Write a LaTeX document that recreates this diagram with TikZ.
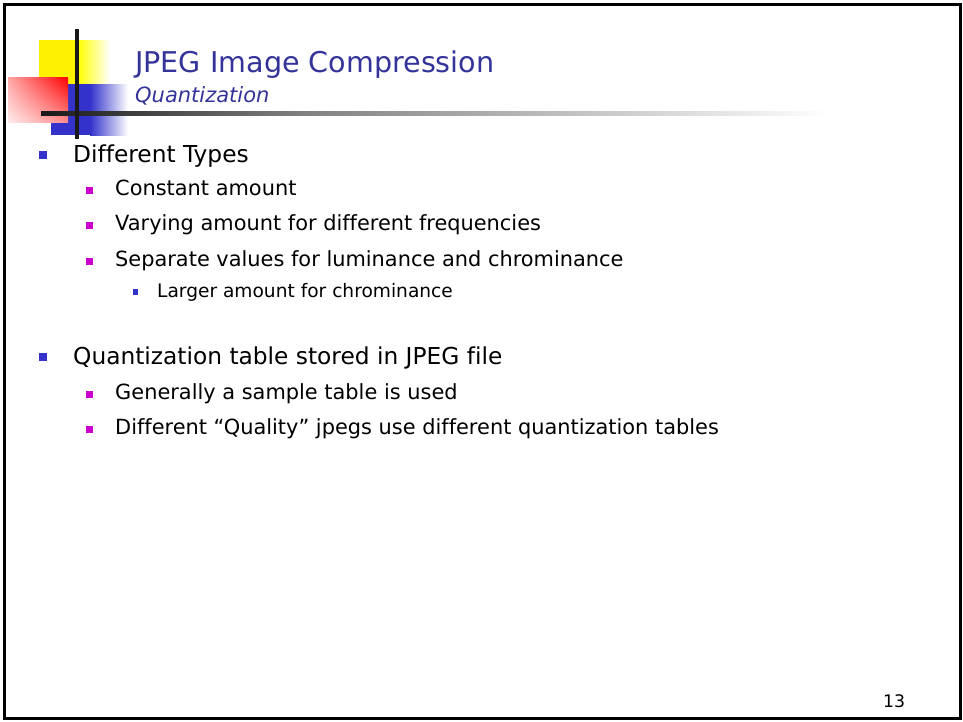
\documentclass[tikz,border=0pt]{standalone}
\usepackage{fontspec}
\setmainfont[Ligatures=NoCommon]{DejaVu Sans}
\usetikzlibrary{shadings}
\definecolor{titleblue}{HTML}{333399}
\definecolor{bulletblue}{HTML}{3333CC}
\definecolor{bulletpink}{HTML}{CC00CC}

\tikzset{
    txt/.style={anchor=base west, inner sep=0pt},
    titletext/.style={txt, text=titleblue, font=\fontsize{28.6}{34}\selectfont},
    subtext/.style={txt, text=titleblue, font=\fontsize{21}{25}\selectfont\itshape},
    lvlone/.style={txt, font=\fontsize{23.3}{28}\selectfont},
    lvltwo/.style={txt, font=\fontsize{20.9}{25}\selectfont},
    lvlthree/.style={txt, font=\fontsize{18.6}{22}\selectfont},
    dotone/.style={fill=bulletblue, inner sep=0pt, minimum size=8pt},
    dottwo/.style={fill=bulletpink, inner sep=0pt, minimum size=7pt},
    dotthree/.style={fill=bulletblue, inner sep=0pt, minimum size=5.5pt}
}

\begin{document}
\begin{tikzpicture}[x=1pt,y=-1pt]
    \useasboundingbox (0,0) rectangle (963,721);
    % slide frame
    \draw[line width=3pt] (4,4) rectangle (960,718);

    % logo blocks
    \fill[yellow] (39,40) rectangle (78,85);
    \shade[left color=yellow, right color=white] (78,40) rectangle (110,85);
    \fill[bulletblue] (51,84) rectangle (90,135);
    \shade[left color=bulletblue, right color=white] (90,84) rectangle (128,135);
    \shade[upper left=red!35, upper right=red, lower left=red!8, lower right=red!45]
        (8,77) rectangle (68,122);
    \shade[left color=black!90, right color=black!50] (41,111) rectangle (300,115.5);
    \shade[left color=black!50, right color=white] (300,111) rectangle (830,115.5);
    \fill[black!90] (75,29) rectangle (79,139);

    % title
    \node[titletext] (title) at (135,72) {JPEG Image Compression};
    \node[subtext] (sub) at (135,102) {Quantization};

    % bullets
    \node[dotone] (b1) at (42.5,155) {};
    \node[lvlone] (types) at (73,162) {Different Types};
    \node[dottwo] (b2) at (89.5,190) {};
    \node[lvltwo] (const) at (115,195) {Constant amount};
    \node[dottwo] (b3) at (89.5,225) {};
    \node[lvltwo] (vary) at (115,230) {Varying amount for different frequencies};
    \node[dottwo] (b4) at (89.5,261) {};
    \node[lvltwo] (sep) at (115,266) {Separate values for luminance and chrominance};
    \node[dotthree] (b5) at (135.5,292) {};
    \node[lvlthree] (larger) at (157,297) {Larger amount for chrominance};

    \node[dotone] (b6) at (42.5,357) {};
    \node[lvlone] (table) at (73,364) {Quantization table stored in JPEG file};
    \node[dottwo] (b7) at (89.5,394) {};
    \node[lvltwo] (sample) at (115,399) {Generally a sample table is used};
    \node[dottwo] (b8) at (89.5,429) {};
    \node[lvltwo] (quality) at (115,434) {Different “Quality” jpegs use different quantization tables};

    % page number
    \node[txt, font=\fontsize{17.3}{20}\selectfont] (page) at (883,707) {13};
\end{tikzpicture}
\end{document}
